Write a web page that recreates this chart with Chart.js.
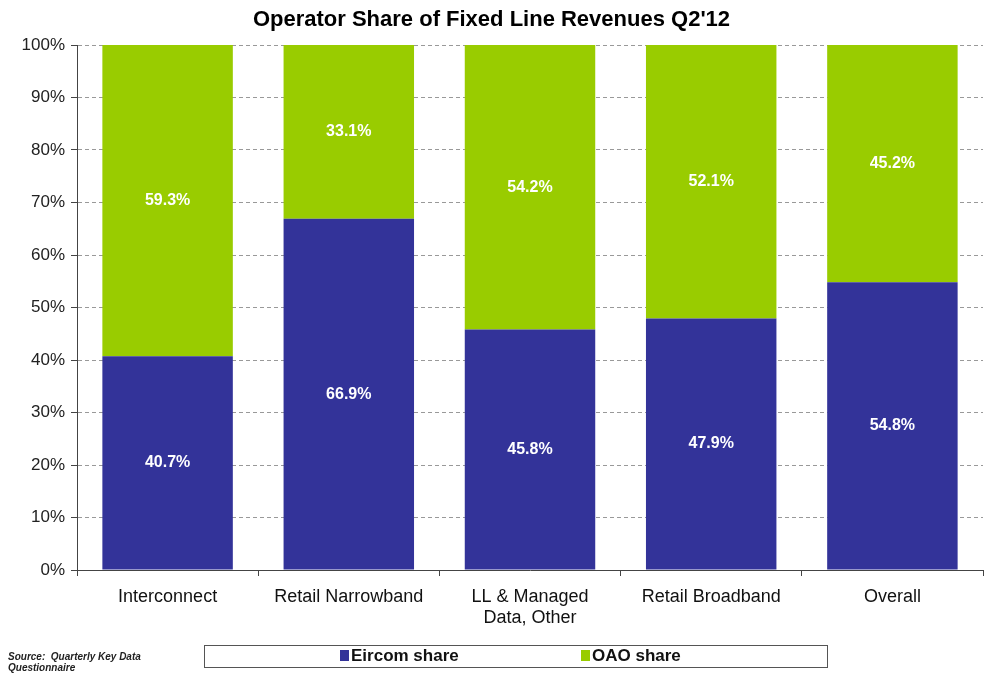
<!DOCTYPE html>
<html>
<head>
<meta charset="utf-8">
<script src="https://cdn.jsdelivr.net/npm/chart.js@4"></script>
<style>
  body { margin: 0; background: #fff; font-family: Arial, "Liberation Sans", sans-serif; }
  #wrap { position: relative; width: 987px; height: 675px; }
  #source { position: absolute; left: 8px; top: 651px; font-size: 10px; font-style: italic; font-weight: bold; color: #222; line-height: 11px; }
  #legend { position: absolute; left: 204px; top: 645px; width: 622px; height: 21px; border: 1px solid #555; }
  .item { position: absolute; top: 0px; font-size: 17px; font-weight: bold; color: #111; white-space: nowrap; }
  .item span { display: inline-block; width: 9px; height: 11px; margin-right: 2px; vertical-align: 0px; }
</style>
</head>
<body>
<div id="wrap">
  <canvas id="chart" width="987" height="675"></canvas>
  <div id="source">Source:&nbsp; Quarterly Key Data<br>Questionnaire</div>
  <div id="legend"></div>
</div>
<script>
var categories = ["Interconnect", "Retail Narrowband", ["LL & Managed", "Data, Other"], "Retail Broadband", "Overall"];
var seriesNames = ["Eircom share", "OAO share"];
var eircomShare = [40.7, 66.9, 45.8, 47.9, 54.8];
var oaoShare = [59.3, 33.1, 54.2, 52.1, 45.2];
var seriesColors = ["#333399", "#99cc00"];
var yTicks = [0, 10, 20, 30, 40, 50, 60, 70, 80, 90, 100];

// legend as html
var legendPos = [135, 376];
var legend = document.getElementById("legend");
seriesNames.forEach(function (name, i) {
    var d = document.createElement("div");
    d.className = "item";
    d.style.left = legendPos[i] + "px";
    d.innerHTML = '<span style="background:' + seriesColors[i] + '"></span>' + name;
    legend.appendChild(d);
});

// white labels in the middle of each bar piece
var segmentLabels = {
    id: "segmentLabels",
    afterDatasetsDraw: function (chart) {
        var ctx = chart.ctx;
        ctx.save();
        ctx.fillStyle = "#fff";
        ctx.font = "bold 16px Arial, 'Liberation Sans', sans-serif";
        ctx.textAlign = "center";
        ctx.textBaseline = "middle";
        chart.data.datasets.forEach(function (ds, di) {
            chart.getDatasetMeta(di).data.forEach(function (bar, i) {
                var y = (bar.y + bar.base) / 2;
                ctx.fillText(ds.data[i].toFixed(1) + "%", bar.x, y);
            });
        });
        ctx.restore();
    }
};

new Chart(document.getElementById("chart"), {
    type: "bar",
    data: {
        labels: categories,
        datasets: [
            { label: seriesNames[0], data: eircomShare, backgroundColor: seriesColors[0] },
            { label: seriesNames[1], data: oaoShare, backgroundColor: seriesColors[1] }
        ]
    },
    options: {
        responsive: false,
        animation: false,
        barPercentage: 0.72,
        categoryPercentage: 1,
        layout: { padding: { left: 0, right: 4, top: 0, bottom: 45 } },
        plugins: {
            legend: { display: false },
            tooltip: { enabled: false },
            title: {
                display: true,
                text: "Operator Share of Fixed Line Revenues Q2'12",
                color: "#000",
                font: { family: "Arial, 'Liberation Sans', sans-serif", size: 22, weight: "bold" },
                padding: { top: 7, bottom: 11.6 }
            }
        },
        scales: {
            x: {
                stacked: true,
                grid: { drawOnChartArea: false, drawTicks: true, tickLength: 6, color: "#444" },
                border: { color: "#444" },
                ticks: { color: "#111", font: { family: "Arial, 'Liberation Sans', sans-serif", size: 18 }, padding: 10, maxRotation: 0, autoSkip: false },
                afterFit: function (s) { s.height = 60; }
            },
            y: {
                stacked: true,
                min: 0,
                max: 100,
                afterBuildTicks: function (s) { s.ticks = yTicks.map(function (v) { return { value: v }; }); },
                grid: { color: "#999", tickLength: 6, tickColor: "#444", tickBorderDash: [] },
                border: { color: "#444", dash: [4, 3] },
                ticks: {
                    color: "#222",
                    font: { family: "Arial, 'Liberation Sans', sans-serif", size: 17 },
                    padding: 6,
                    callback: function (v) { return v + "%"; }
                },
                afterFit: function (s) { s.width = 77; }
            }
        }
    },
    plugins: [segmentLabels]
});
</script>
</body>
</html>
